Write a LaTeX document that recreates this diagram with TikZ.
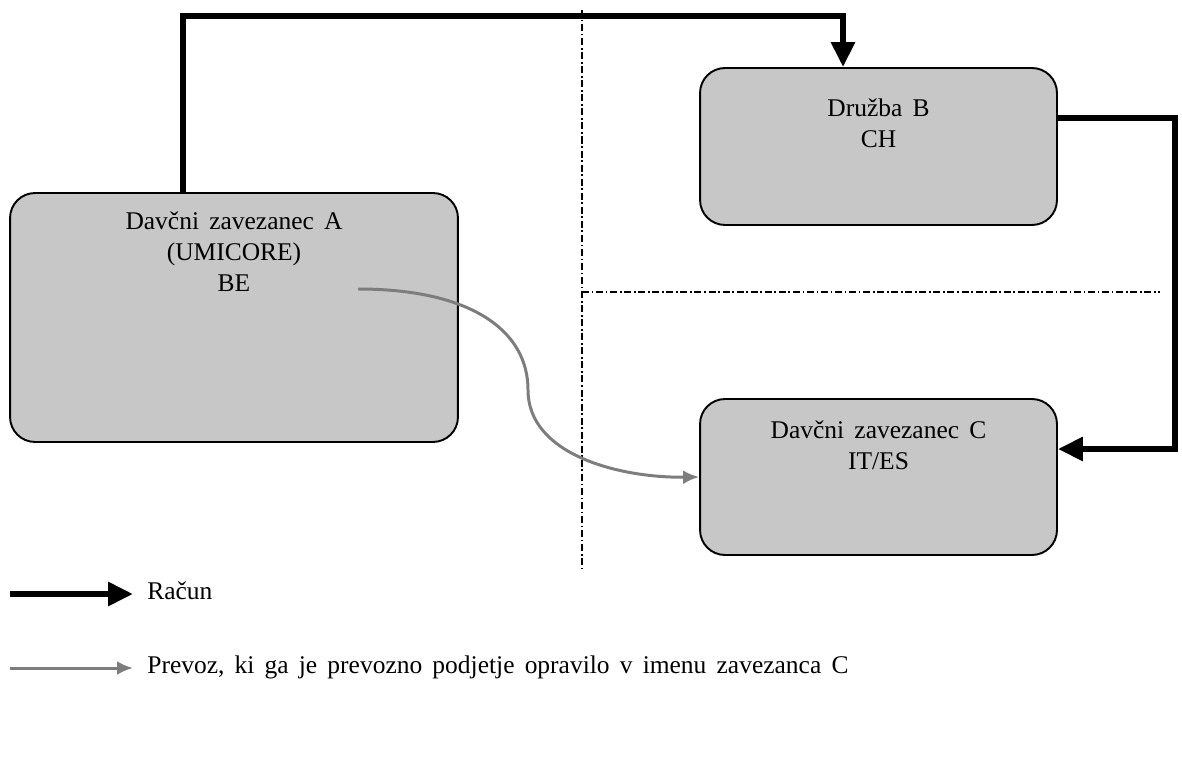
\documentclass[tikz,border=0pt]{standalone}
\usepackage{fontspec}
\setmainfont{Liberation Serif}[WordSpace=1.6]
\usepackage{xcolor}
\usetikzlibrary{positioning, arrows.meta}
\definecolor{boxgray}{RGB}{199,199,199}
\definecolor{routegray}{RGB}{125,125,125}

\begin{document}
\begin{tikzpicture}[x=0.02cm, y=-0.02cm, every node/.style={inner sep=1.5pt},
  firm/.style={draw=black, line width=1.1pt, fill=boxgray, rounded corners=0.5cm},
  firmtext/.style={align=center, font=\fontsize{14.5}{17.6}\selectfont},
  legtext/.style={anchor=west, inner xsep=0pt, text height=9.8pt, text depth=3pt, font=\fontsize{14.5}{17.6}\selectfont},
  invoice/.style={line width=3.4pt, -{Triangle[length=0.5cm,width=0.46cm]}},
  transport/.style={line width=1.7pt, routegray, -{Latex[length=0.32cm,width=0.28cm]}},
  border/.style={line width=0.85pt, dash pattern=on 4pt off 1.5pt on 1pt off 1.5pt}]
  \useasboundingbox (0,0) rectangle (1182,780);
  \draw[border] (582,10) -- (582,568);
  \draw[border] (582,292) -- (1160,292);
  \node[firm, minimum width=8.96cm, minimum height=4.98cm] (A) at (234,317.5) {};
  \node[firm, minimum width=7.14cm, minimum height=3.14cm] (B) at (878.5,146.5) {};
  \node[firm, minimum width=7.14cm, minimum height=3.12cm] (C) at (878.5,477) {};
  \node[firmtext, below=0.34cm of A.north] (tA) {Davčni zavezanec A\\(UMICORE)\\BE};
  \node[firmtext, below=0.58cm of B.north] (tB) {Družba B\\CH};
  \node[firmtext, below=0.40cm of C.north] (tC) {Davčni zavezanec C\\IT/ES};
  \draw[invoice] ([xshift=-1.02cm]A.north) -- ++(0,-176) -| ([xshift=-0.71cm]B.north);
  \draw[invoice] ([yshift=0.57cm]B.east) -- ++(117,0) |- ([yshift=0.56cm]C.east);
  \coordinate (load) at (358,289);
  \draw[transport] (load) .. controls (470,289) and (528,330) .. (528,390) .. controls (528,455) and (620,478) .. (C.west);
  \node[legtext] (lr) at (147,594) {Račun};
  \node[legtext] (lp) at (147,668) {Prevoz, ki ga je prevozno podjetje opravilo v imenu zavezanca C};
  \coordinate (k1) at (10,594);
  \coordinate (k2) at (10,668);
  \draw[invoice] (k1) -- ([xshift=-0.28cm]lr.west);
  \draw[transport] (k2) -- ([xshift=-0.28cm]lp.west);
\end{tikzpicture}
\end{document}
